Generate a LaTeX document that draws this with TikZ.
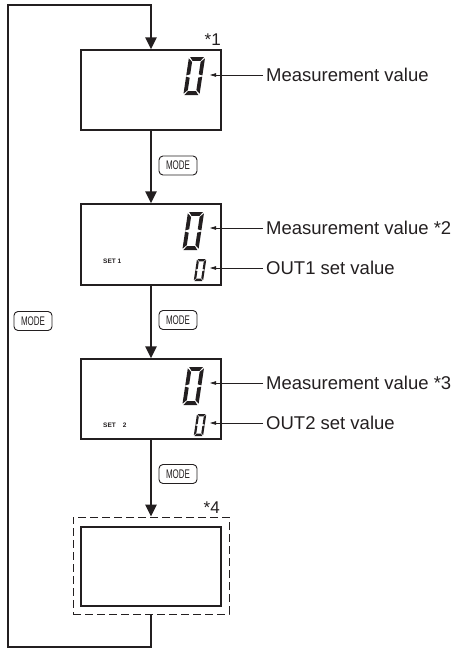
\documentclass[tikz,border=0pt]{standalone}
\usepackage{fontspec}
\setmainfont{Liberation Sans}
\usetikzlibrary{arrows.meta}
\definecolor{ink}{HTML}{231F20}
\tikzset{
  lcdbox/.style={draw=ink, line width=1.3pt, minimum width=140pt, inner sep=0pt},
  loopline/.style={draw=ink, line width=2.7pt, line join=miter},
  flow/.style={loopline, -{Triangle[width=11pt,length=12pt]}},
  modebtn/.style={draw=ink, line width=0.9pt, rounded corners=4pt, minimum width=38pt,
    minimum height=19pt, inner sep=0pt, text=ink, font=\fontsize{12.5}{13}\selectfont},
  lbl/.style={anchor=west, inner sep=0pt, text=ink, font=\fontsize{18.5}{20}\selectfont},
  note/.style={anchor=base east, inner sep=0pt, text=ink, font=\fontsize{17}{18}\selectfont},
  setlbl/.style={anchor=west, inner sep=0pt, text=ink, font=\fontsize{6.5}{7}\selectfont\bfseries},
  pointer/.style={draw=ink, line width=0.8pt, shorten <=3pt, -{Triangle[length=6pt,width=3.5pt]}},
  segzero/.pic={
    \fill[ink] (0.06,0) -- (0.79,0) -- (0.63,0.21) -- (0.22,0.21) -- cycle;
    \fill[ink] (0.06,2) -- (0.79,2) -- (0.63,1.79) -- (0.22,1.79) -- cycle;
    \fill[ink] (0,0.07) -- (0.2,0.26) -- (0.2,0.91) -- (0,0.97) -- cycle;
    \fill[ink] (0,1.03) -- (0.2,1.09) -- (0.2,1.74) -- (0,1.93) -- cycle;
    \fill[ink] (0.85,0.07) -- (0.65,0.26) -- (0.65,0.91) -- (0.85,0.97) -- cycle;
    \fill[ink] (0.85,1.03) -- (0.65,1.09) -- (0.65,1.74) -- (0.85,1.93) -- cycle;
  }
}
\newcommand{\modetxt}{\scalebox{0.64}[1]{MODE}}
\begin{document}
\begin{tikzpicture}[x=1pt,y=-1pt]
\useasboundingbox (0,0) rectangle (456,656);
% LCD boxes
\node[lcdbox, minimum height=80pt] (box1) at (151,90) {};
\node[lcdbox, minimum height=81pt] (box2) at (151,244.5) {};
\node[lcdbox, minimum height=80pt] (box3) at (151,399) {};
\node[lcdbox, minimum height=79pt] (box4) at (151,566.5) {};
\node[draw=ink, line width=1pt, dash pattern=on 8pt off 4pt, minimum width=156pt,
  minimum height=97pt, inner sep=0pt] (dash) at (151,565.5) {};
% digits
\pic[scale=19, xslant=0.15] at (189,57) {segzero};
\pic[scale=19, xslant=0.15] at (188,212) {segzero};
\pic[scale=11, xslant=0.15] at (197,259) {segzero};
\pic[scale=19, xslant=0.15] at (188,367) {segzero};
\pic[scale=11, xslant=0.15] at (197,414) {segzero};
% small texts
\node[setlbl] (set1) at (103,261) {SET 1};
\node[setlbl] (set2) at (103,425) {SET\hspace{7pt}2};
\node[note] (n1) at (221,45) {*1};
\node[note] (n4) at (220,513) {*4};
% MODE buttons
\node[modebtn] (m1) at (178,165.5) {\modetxt};
\node[modebtn] (m2) at (178,320) {\modetxt};
\node[modebtn] (m3) at (178,474) {\modetxt};
\node[modebtn] (m0) at (33,321) {\modetxt};
% flow arrows
\draw[flow] (box1.south) -- (box2.north);
\draw[flow] (box2.south) -- (box3.north);
\draw[flow] (box3.south) -- (dash.north);
\coordinate (bl) at (8,647);
\coordinate (tl) at (8,5);
\draw[flow] (dash.south) |- (bl) -- (tl) -| (box1.north);
% labels and pointers
\node[lbl] (l1) at (266,75) {Measurement value};
\node[lbl] (l2) at (266,228) {Measurement value *2};
\node[lbl] (l3) at (266,268) {OUT1 set value};
\node[lbl] (l4) at (266,383) {Measurement value *3};
\node[lbl] (l5) at (266,423) {OUT2 set value};
\coordinate (p1) at (210,75);
\coordinate (p2) at (210,228);
\coordinate (p3) at (210,268);
\coordinate (p4) at (210,383);
\coordinate (p5) at (210,423);
\draw[pointer] (l1.west) -- (p1);
\draw[pointer] (l2.west) -- (p2);
\draw[pointer] (l3.west) -- (p3);
\draw[pointer] (l4.west) -- (p4);
\draw[pointer] (l5.west) -- (p5);
\end{tikzpicture}
\end{document}
